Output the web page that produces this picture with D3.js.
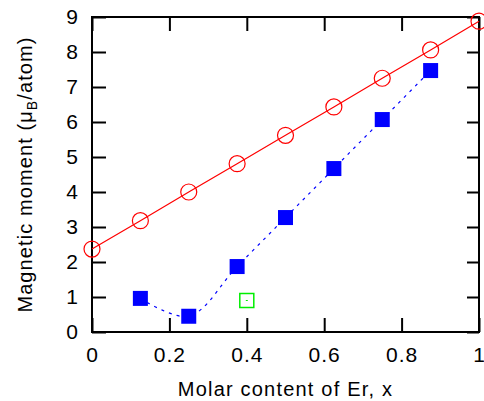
<!DOCTYPE html>
<html>
<head>
<meta charset="utf-8">
<script src="https://cdn.jsdelivr.net/npm/d3@7"></script>
<style>
  html, body { margin: 0; padding: 0; background: #fff; }
  svg { display: block; font-family: "Liberation Sans", Arial, Helvetica, sans-serif; }
</style>
</head>
<body>
<div id="chart"></div>
<script>
// x: molar content of Er
const xCircles = [0, 0.125, 0.25, 0.375, 0.5, 0.625, 0.75, 0.875, 1];
const yCircles = [2.37, 3.18, 4.0, 4.81, 5.62, 6.43, 7.25, 8.06, 8.88];

const xSquares = [0.125, 0.25, 0.375, 0.5, 0.625, 0.75, 0.875];
const ySquares = [0.96, 0.45, 1.87, 3.27, 4.67, 6.07, 7.47];

const xOpen = [0.4];
const yOpen = [0.9];

const xTicks = [0, 0.2, 0.4, 0.6, 0.8, 1];
const yTicks = [0, 1, 2, 3, 4, 5, 6, 7, 8, 9];

const width = 484, height = 401;
const margin = {left: 92, right: 5, top: 17, bottom: 69};

const svg = d3.select('#chart').append('svg')
    .attr('width', width)
    .attr('height', height);

const x = d3.scaleLinear().domain([0, 1]).range([margin.left, width - margin.right]);
const y = d3.scaleLinear().domain([0, 9]).range([height - margin.bottom, margin.top]);

const fmt = d => String(+d.toFixed(1));
const tick = 14;

// axes, ticks point inward
const styleAxis = g => {
    g.select('.domain').remove();
    g.selectAll('line').attr('stroke', '#000').attr('stroke-width', 2);
    g.selectAll('text').attr('fill', '#000').style('font-size', '21px');
};

svg.append('g')
    .attr('transform', `translate(0,${y(0)})`)
    .call(d3.axisBottom(x).tickValues(xTicks).tickFormat(fmt).tickSize(-tick).tickPadding(15))
    .call(styleAxis)
    .attr('font-family', null)
    .selectAll('text').style('letter-spacing', '1px');

svg.append('g')
    .attr('transform', `translate(0,${y(9)})`)
    .call(d3.axisTop(x).tickValues(xTicks).tickFormat('').tickSize(-tick))
    .call(styleAxis);

svg.append('g')
    .attr('transform', `translate(${x(0)},0)`)
    .call(d3.axisLeft(y).tickValues(yTicks).tickFormat(fmt).tickSize(-tick).tickPadding(14))
    .call(styleAxis)
    .attr('font-family', null);

svg.append('g')
    .attr('transform', `translate(${x(1)},0)`)
    .call(d3.axisRight(y).tickValues(yTicks).tickFormat('').tickSize(-12))
    .call(styleAxis);

// frame
svg.append('rect')
    .attr('x', x(0)).attr('y', y(9))
    .attr('width', x(1) - x(0)).attr('height', y(0) - y(9))
    .attr('fill', 'none').attr('stroke', '#000').attr('stroke-width', 2);

// red line + open circles
const circles = xCircles.map((d, i) => [d, yCircles[i]]);
svg.append('path')
    .datum(circles)
    .attr('d', d3.line().x(d => x(d[0])).y(d => y(d[1])))
    .attr('fill', 'none').attr('stroke', '#ff0000').attr('stroke-width', 1.2);

svg.selectAll('circle.red')
    .data(circles)
    .enter().append('circle')
    .attr('class', 'red')
    .attr('cx', d => x(d[0])).attr('cy', d => y(d[1]))
    .attr('r', 8)
    .attr('fill', 'none').attr('stroke', '#ff0000').attr('stroke-width', 1.2);

// blue dashed curve + filled squares
const squares = xSquares.map((d, i) => [d, ySquares[i]]);
svg.append('path')
    .datum(squares)
    .attr('d', d3.line().curve(d3.curveCatmullRom).x(d => x(d[0])).y(d => y(d[1])))
    .attr('fill', 'none').attr('stroke', '#0000ff').attr('stroke-width', 1.2)
    .attr('stroke-dasharray', '3,5');

const sq = 15;
svg.selectAll('rect.blue')
    .data(squares)
    .enter().append('rect')
    .attr('class', 'blue')
    .attr('x', d => x(d[0]) - sq / 2).attr('y', d => y(d[1]) - sq / 2)
    .attr('width', sq).attr('height', sq)
    .attr('fill', '#0000ff');

// green open square with a dot
const open = xOpen.map((d, i) => [d, yOpen[i]]);
const og = svg.selectAll('g.green')
    .data(open)
    .enter().append('g')
    .attr('class', 'green')
    .attr('transform', d => `translate(${x(d[0])},${y(d[1])})`);
og.append('rect')
    .attr('x', -7).attr('y', -7).attr('width', 14).attr('height', 14)
    .attr('fill', 'none').attr('stroke', '#00ee00').attr('stroke-width', 1.5);
og.append('rect')
    .attr('x', -1).attr('y', -0.5).attr('width', 2).attr('height', 1)
    .attr('fill', '#00ee00');

// axis titles
svg.append('text')
    .attr('x', (x(0) + x(1)) / 2)
    .attr('y', 396)
    .attr('text-anchor', 'middle')
    .style('font-size', '20px')
    .style('letter-spacing', '1.2px')
    .text('Molar content of Er, x');

const yl = svg.append('text')
    .attr('transform', `translate(32,${(y(0) + y(9)) / 2}) rotate(-90)`)
    .attr('text-anchor', 'middle')
    .style('font-size', '20px')
    .style('letter-spacing', '1.1px');
yl.append('tspan').text('Magnetic moment (\u03bc');
yl.append('tspan').attr('dy', 5).style('font-size', '14px').text('B');
yl.append('tspan').attr('dy', -5).text('/atom)');
</script>
</body>
</html>
